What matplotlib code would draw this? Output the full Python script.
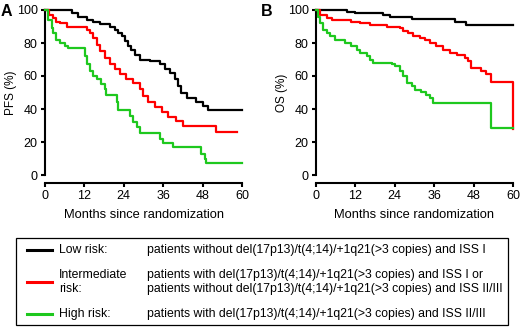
import matplotlib
matplotlib.use("Agg")
import matplotlib.pyplot as plt
from matplotlib.lines import Line2D
from matplotlib.patches import Rectangle

plt.rcParams['font.family'] = ['Liberation Sans', 'DejaVu Sans']

# --- datos (meses, %) ---
pfs_low_t = [0, 8.1, 10.1, 12.7, 14.7, 16.7, 19.8, 21.3, 22.3, 23.3, 24.3, 25.3, 26.3, 27.4,
             28.9, 31.9, 35.0, 36.5, 38.0, 39.5, 40.5, 41.5, 43.1, 46.1, 48.1, 49.6, 60]
pfs_low_v = [100, 98, 96, 94, 93, 91.5, 90, 88, 86, 84, 81, 78, 76, 73,
             70, 69, 67, 64, 62, 58, 54, 50, 46.5, 44, 42, 39.5, 39.5]

pfs_int_t = [0, 1.2, 2.5, 3.5, 4.6, 6.6, 12.7, 13.7, 14.7, 15.7, 16.7, 18.2, 19.8, 21.3,
             22.8, 24.8, 26.8, 28.9, 29.9, 31.4, 33.4, 35.5, 37.5, 40.0, 42.0, 52.0, 58.5]
pfs_int_v = [100, 97, 95, 93, 92, 90, 88, 86, 83, 79, 75, 71, 67, 64,
             61, 58, 56, 52, 48, 44, 41, 38, 35, 33, 30, 26, 26]

pfs_high_t = [0, 1.0, 2.0, 2.5, 3.5, 4.6, 6.1, 7.1, 12.2, 12.9, 13.7, 14.7, 15.7, 17.2, 18.2,
              18.7, 21.8, 22.3, 25.8, 26.8, 27.9, 28.9, 35.0, 36.0, 39.0, 47.6, 48.6, 49.1, 60]
pfs_high_v = [100, 94, 89, 86, 82, 80, 78, 77, 72, 67, 63, 60, 58, 55, 52,
              48.5, 44, 39.5, 36, 32, 29, 25.5, 22, 19.5, 17, 13, 10, 7, 7]

os_low_t = [0, 9.3, 11.9, 20.5, 22.5, 29.1, 42.2, 45.8, 60]
os_low_v = [100, 99, 98, 97, 95.5, 94.5, 93, 91, 91]

os_int_t = [0, 1.2, 3.2, 4.8, 10.8, 13.4, 16.4, 21.5, 25.5, 26.5, 28.1, 29.6, 31.6, 33.1,
            34.7, 36.7, 38.7, 40.7, 42.8, 45.3, 46.3, 47.3, 50.4, 51.9, 53.4, 60, 60]
os_int_v = [100, 97, 95, 94, 93, 92, 91, 90, 89, 87, 86, 84, 83, 82,
            80, 78, 76, 74, 73, 71, 69, 65, 63, 61, 56.5, 28, 28]

os_high_t = [0, 0.7, 1.2, 2.2, 3.2, 4.3, 5.8, 8.8, 10.8, 12.4, 13.4, 15.4, 16.4, 17.4,
             23.0, 24.0, 25.5, 26.5, 27.6, 29.1, 30.1, 32.1, 33.6, 34.7, 35.7, 53.4, 60]
os_high_v = [100, 96, 92, 88, 86, 84, 82, 80, 78, 76, 74, 72, 70, 68,
             67, 66, 63, 60, 56, 54, 51.5, 50.5, 48.5, 46.5, 43.4, 28.3, 28.3]

xticks = [0, 12, 24, 36, 48, 60]
yticks = [0, 20, 40, 60, 80, 100]
colores = ['#000000', '#ff0000', '#1ec81e']

grupos = ['Low risk:', 'Intermediate\nrisk:', 'High risk:']
descripciones = [
    'patients without del(17p13)/t(4;14)/+1q21(>3 copies) and ISS I',
    'patients with del(17p13)/t(4;14)/+1q21(>3 copies) and ISS I or\n'
    'patients without del(17p13)/t(4;14)/+1q21(>3 copies) and ISS II/III',
    'patients with del(17p13)/t(4;14)/+1q21(>3 copies) and ISS II/III',
]

W, H = 520, 327
fig = plt.figure(figsize=(W / 100, H / 100), dpi=100)


def px(x0, y0, x1, y1):
    # caja en pixeles -> fracciones de la figura
    return [x0 / W, 1 - y1 / H, (x1 - x0) / W, (y1 - y0) / H]


def panel(rect, curvas, ylabel, letra, xl):
    ax = fig.add_axes(rect)
    for (t, v), c in zip(curvas, colores):
        ax.step(t, v, where='post', color=c, lw=1.6, clip_on=False, zorder=3)
    ax.set_xlim(0, 60)
    ax.set_ylim(0, 100)
    ax.set_xticks(xticks)
    ax.set_yticks(yticks)
    for s in ['top', 'right']:
        ax.spines[s].set_visible(False)
    ax.spines['bottom'].set_position(('outward', 5.8))
    ax.spines['left'].set_bounds(0, 100)
    for s in ['left', 'bottom']:
        ax.spines[s].set_linewidth(1.5)
    ax.tick_params(direction='out', length=3.2, width=1.5, labelsize=9, pad=2)
    ax.set_ylabel(ylabel, fontsize=8.5)
    ax.yaxis.set_label_coords(-0.142, 0.5)
    ax.set_xlabel('Months since randomization', fontsize=9.3, labelpad=5)
    fig.text(xl / W, 1 - 11 / H, letra, fontsize=11.5, fontweight='bold', va='center')
    return ax


panel(px(45, 10, 242, 175),
      [(pfs_low_t, pfs_low_v), (pfs_int_t, pfs_int_v), (pfs_high_t, pfs_high_v)],
      'PFS (%)', 'A', 1)
panel(px(316, 10, 513, 175),
      [(os_low_t, os_low_v), (os_int_t, os_int_v), (os_high_t, os_high_v)],
      'OS (%)', 'B', 261)

# cuadro de leyenda
fig.patches.append(Rectangle((16 / W, 1 - 325 / H), (508 - 16) / W, (325 - 238) / H,
                             transform=fig.transFigure, fill=False, lw=0.9, ec='black'))
filas = [250, 282, 314]
for yy, c, g, d in zip(filas, colores, grupos, descripciones):
    fig.lines.append(Line2D([27 / W, 52 / W], [1 - yy / H] * 2, transform=fig.transFigure,
                            color=c, lw=2.2))
    fig.text(59 / W, 1 - yy / H, g, fontsize=8.8, va='center', linespacing=1.2)
    fig.text(147 / W, 1 - yy / H, d, fontsize=8.8, va='center', linespacing=1.2)

fig.savefig('out.png', dpi=100)
